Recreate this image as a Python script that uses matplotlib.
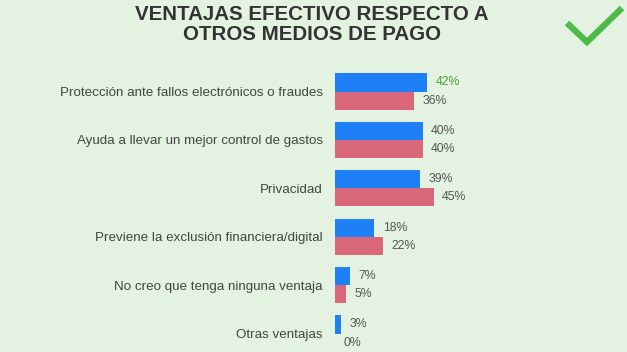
import matplotlib
matplotlib.use("Agg")
import matplotlib.pyplot as plt
import numpy as np

categorias = ['Protección ante fallos electrónicos o fraudes',
              'Ayuda a llevar un mejor control de gastos',
              'Privacidad',
              'Previene la exclusión financiera/digital',
              'No creo que tenga ninguna ventaja',
              'Otras ventajas']
serie_azul = [42, 40, 39, 18, 7, 3]
serie_roja = [36, 40, 45, 22, 5, 0]
titulo = ['VENTAJAS EFECTIVO RESPECTO A', 'OTROS MEDIOS DE PAGO']

bg = '#e4f2e1'
azul = '#1f80f6'
rojo = '#d8677a'
gris = '#555555'

plt.rcParams['font.family'] = ['Liberation Sans', 'DejaVu Sans']

fig = plt.figure(figsize=(6.27, 3.52), dpi=100, facecolor=bg)
ax = fig.add_axes([334.7 / 627, 0, 220 / 627, 1 - 60 / 352])
ax.set_facecolor(bg)

y = np.arange(len(categorias))
h = 0.372
ax.barh(y - h / 2, serie_azul, height=h, color=azul)
ax.barh(y + h / 2, serie_roja, height=h, color=rojo)

for i in range(len(categorias)):
    col = '#4e9a3c' if i == 0 else gris
    ax.annotate(f'{serie_azul[i]}%', (serie_azul[i], y[i] - h / 2), xytext=(6, 0),
                textcoords='offset points', va='center', ha='left', fontsize=8.8, color=col)
    ax.annotate(f'{serie_roja[i]}%', (serie_roja[i], y[i] + h / 2), xytext=(6, 0),
                textcoords='offset points', va='center', ha='left', fontsize=8.8, color=gris)

ax.set_xlim(0, 100)
ax.set_ylim(5 + 18.5 / 48.4, -31.5 / 48.4)
ax.set_yticks(y)
ax.set_yticklabels(categorias, fontsize=9.6, color='#444444')
ax.tick_params(axis='y', length=0, pad=8.5)
ax.set_xticks([])
for s in ax.spines.values():
    s.set_visible(False)

fig.text(312 / 627, 1 - 15 / 352, titulo[0], ha='center', va='center', fontsize=14.8,
         fontweight='bold', color='#333333')
fig.text(312 / 627, 1 - 35 / 352, titulo[1], ha='center', va='center', fontsize=14.8,
         fontweight='bold', color='#333333')

# check mark
fig.add_artist(plt.Line2D([567 / 627, 587 / 627, 622 / 627],
                          [1 - 23 / 352, 1 - 42 / 352, 1 - 8 / 352],
                          color='#4cbb4a', linewidth=4.5, solid_capstyle='butt',
                          solid_joinstyle='miter'))

fig.savefig('out.png', dpi=100, facecolor=bg)
